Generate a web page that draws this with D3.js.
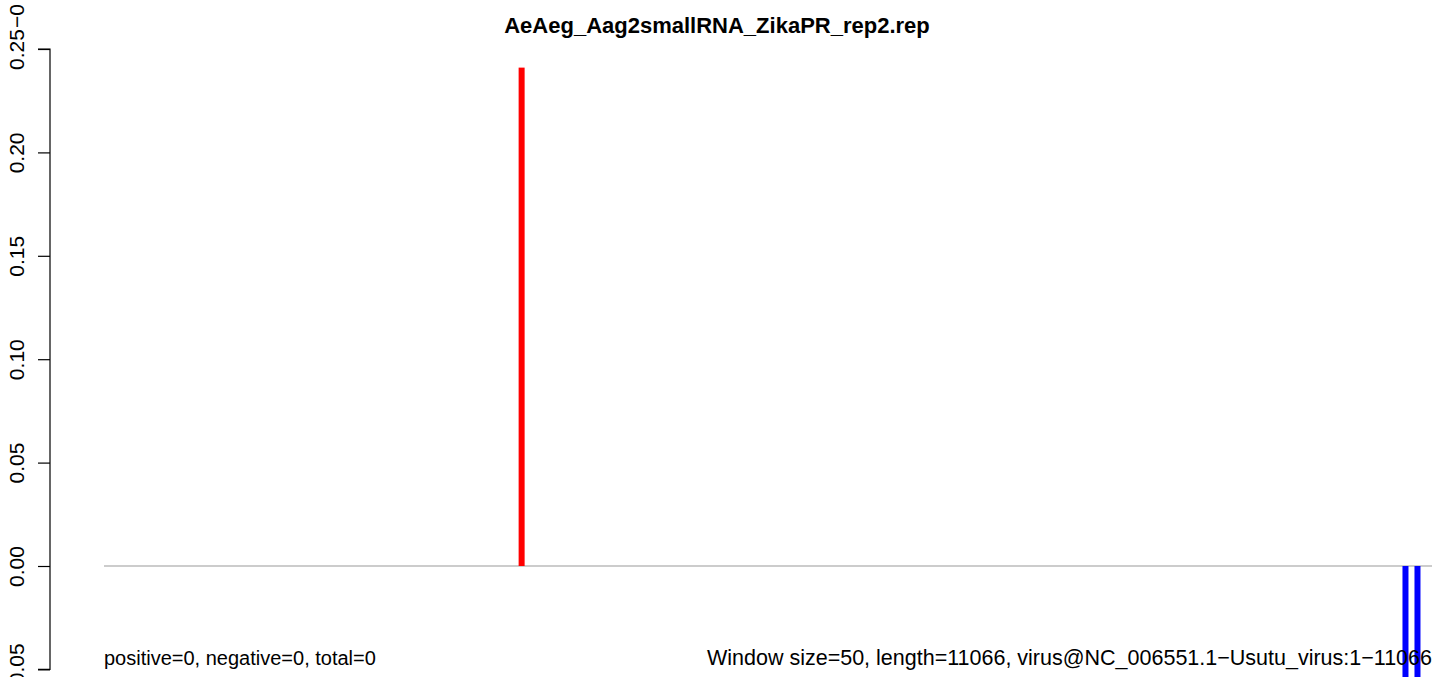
<!DOCTYPE html>
<html>
<head>
<meta charset="utf-8">
<script src="https://cdn.jsdelivr.net/npm/d3@7"></script>
<style>
  html, body { margin: 0; padding: 0; background: #fff; }
  svg { display: block; font-family: "Liberation Sans", Arial, Helvetica, sans-serif; }
</style>
</head>
<body>
<svg id="chart" width="1441" height="677"></svg>
<script>
// Coverage windows (genome position, normalised abundance)
const positivePositions = [3480];
const positiveValues = [0.241];
const negativePositions = [10845, 10945];
const negativeValues = [-0.12, -0.12];
const yTicks = [-0.05, 0.00, 0.05, 0.10, 0.15, 0.20, 0.25];
const genomeLength = 11066;
const titleText = "AeAeg_Aag2smallRNA_ZikaPR_rep2.rep";
const leftNote = "positive=0, negative=0, total=0";
const rightNote = "Window size=50, length=11066, virus@NC_006551.1\u2212Usutu_virus:1\u221211066";

const FS = 21;
const svg = d3.select("#chart");

const x = d3.scaleLinear().domain([0, genomeLength]).range([104, 1432]);
const y = d3.scaleLinear().domain([-0.05, 0.25]).range([669.4, 49]);

// y axis (ticks pointing out, labels rotated along the axis)
const axis = d3.axisLeft(y)
  .tickValues(yTicks)
  .tickSize(12)
  .tickFormat(d => (d < 0 ? "\u2212" : "") + Math.abs(d).toFixed(2));

const ga = svg.append("g").attr("transform", "translate(50,0)").call(axis);
ga.select(".domain").attr("d", `M-12,${y(0.25)}H0V${y(-0.05)}H-12`).attr("stroke", "#000").attr("stroke-width", 1.2);
ga.selectAll(".tick line").remove();
ga.selectAll(".tick").append("line")
  .attr("x1", -12).attr("x2", 0).attr("y1", 0).attr("y2", 0)
  .attr("stroke", "#000").attr("stroke-width", 1.2);
ga.selectAll(".tick text")
  .attr("font-size", FS)
  .attr("fill", "#000")
  .attr("font-family", "Liberation Sans, Arial, sans-serif")
  .attr("transform", "rotate(-90)")
  .attr("x", 0)
  .attr("y", -26)
  .attr("dy", 0)
  .attr("text-anchor", "middle");

// top label runs on past the upper edge
svg.append("text")
  .attr("transform", `translate(24,${y(0.25) - 21}) rotate(-90)`)
  .attr("font-size", FS)
  .attr("text-anchor", "start")
  .text("\u22120");

// zero baseline
svg.append("line")
  .attr("x1", x(0)).attr("x2", x(genomeLength))
  .attr("y1", y(0)).attr("y2", y(0))
  .attr("stroke", "#9a9a9a").attr("stroke-width", 1.2);

// positive strand bars
svg.selectAll("rect.pos")
  .data(positivePositions.map((p, i) => ({ p, v: positiveValues[i] })))
  .join("rect")
  .attr("class", "pos")
  .attr("x", d => x(d.p) - 3)
  .attr("width", 6)
  .attr("y", d => y(d.v))
  .attr("height", d => y(0) - y(d.v))
  .attr("fill", "#ff0000");

// negative strand bars
svg.selectAll("rect.neg")
  .data(negativePositions.map((p, i) => ({ p, v: negativeValues[i] })))
  .join("rect")
  .attr("class", "neg")
  .attr("x", d => x(d.p) - 3)
  .attr("width", 6)
  .attr("y", y(0))
  .attr("height", d => y(d.v) - y(0))
  .attr("fill", "#0000ff");

// title
svg.append("text")
  .attr("x", 717).attr("y", 33)
  .attr("text-anchor", "middle")
  .attr("font-weight", "bold")
  .attr("font-size", 22)
  .text(titleText);

// footer notes
svg.append("text")
  .attr("x", 104).attr("y", 665)
  .attr("font-size", 20)
  .text(leftNote);

svg.append("text")
  .attr("x", 1432).attr("y", 665)
  .attr("text-anchor", "end")
  .attr("font-size", 21.5)
  .text(rightNote);
</script>
</body>
</html>
